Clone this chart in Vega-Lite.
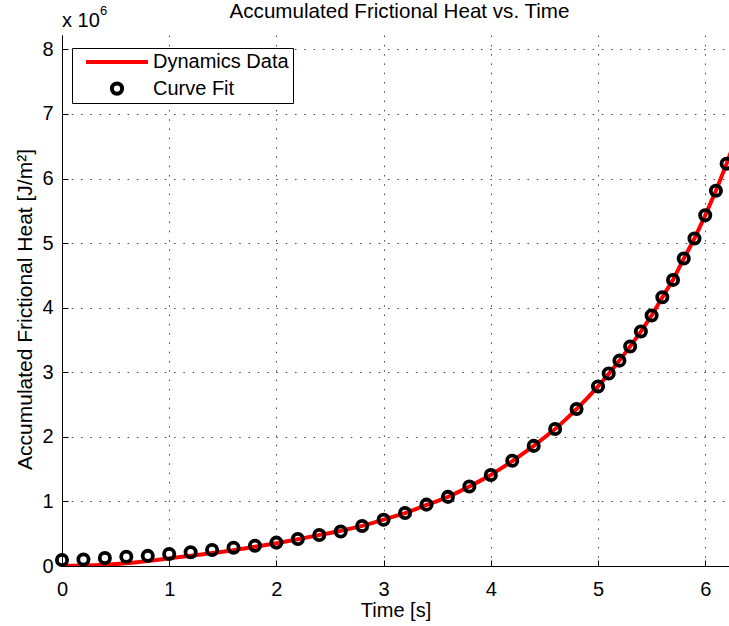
{
  "$schema": "https://vega.github.io/schema/vega-lite/v6.json",
  "width": 667,
  "height": 531,
  "autosize": {"type": "none"},
  "padding": {"left": 62, "top": 35, "right": 0, "bottom": 60},
  "background": "white",
  "title": {"text": "Accumulated Frictional Heat vs. Time", "font": "Liberation Sans", "fontSize": 20.6, "fontWeight": "normal", "color": "#000", "anchor": "middle", "offset": -18, "dx": 4},
  "config": {
    "view": {"stroke": null},
    "font": "Liberation Sans",
    "axis": {
      "labelFont": "Liberation Sans", "labelFontSize": 20, "labelColor": "#000",
      "titleFont": "Liberation Sans", "titleFontSize": 20, "titleFontWeight": "normal", "titleColor": "#000",
      "domainColor": "#000", "domainWidth": 1, "tickColor": "#000", "tickSize": -6, "tickWidth": 1,
      "grid": true, "gridColor": "#444", "gridDash": [1.5, 7.8], "gridWidth": 1, "gridOpacity": 1,
      "labelFlush": false, "labelOverlap": false
    }
  },
  "datasets": {
    "dynamics": [
      {"t": 0.0, "heat": 0}, {"t": 0.1, "heat": 2000}, {"t": 0.2, "heat": 6000}, {"t": 0.3, "heat": 12000},
      {"t": 0.4, "heat": 20000}, {"t": 0.5, "heat": 30000}, {"t": 0.6, "heat": 43000}, {"t": 0.7, "heat": 58000},
      {"t": 0.8, "heat": 76000}, {"t": 0.9, "heat": 96000}, {"t": 1.0, "heat": 118000}, {"t": 1.1, "heat": 139000},
      {"t": 1.2, "heat": 158000}, {"t": 1.3, "heat": 178000}, {"t": 1.4, "heat": 200000}, {"t": 1.5, "heat": 222000},
      {"t": 1.6, "heat": 246000}, {"t": 1.7, "heat": 272000}, {"t": 1.8, "heat": 298000}, {"t": 1.9, "heat": 325000},
      {"t": 2.0, "heat": 352000}, {"t": 2.1, "heat": 382000}, {"t": 2.2, "heat": 414000}, {"t": 2.3, "heat": 447000},
      {"t": 2.4, "heat": 480000}, {"t": 2.5, "heat": 512000}, {"t": 2.6, "heat": 545000}, {"t": 2.7, "heat": 582000},
      {"t": 2.8, "heat": 622000}, {"t": 2.9, "heat": 668000}, {"t": 3.0, "heat": 718000}, {"t": 3.1, "heat": 768000},
      {"t": 3.2, "heat": 820000}, {"t": 3.3, "heat": 882000}, {"t": 3.4, "heat": 945000}, {"t": 3.5, "heat": 1005000},
      {"t": 3.6, "heat": 1070000}, {"t": 3.7, "heat": 1148000}, {"t": 3.8, "heat": 1230000}, {"t": 3.9, "heat": 1318000},
      {"t": 4.0, "heat": 1410000}, {"t": 4.1, "heat": 1515000}, {"t": 4.2, "heat": 1625000}, {"t": 4.3, "heat": 1740000},
      {"t": 4.4, "heat": 1860000}, {"t": 4.5, "heat": 1990000}, {"t": 4.6, "heat": 2120000}, {"t": 4.7, "heat": 2270000},
      {"t": 4.8, "heat": 2430000}, {"t": 4.9, "heat": 2600000}, {"t": 5.0, "heat": 2780000}, {"t": 5.1, "heat": 2975000},
      {"t": 5.2, "heat": 3180000}, {"t": 5.3, "heat": 3400000}, {"t": 5.4, "heat": 3630000}, {"t": 5.5, "heat": 3880000},
      {"t": 5.6, "heat": 4160000}, {"t": 5.7, "heat": 4430000}, {"t": 5.8, "heat": 4760000}, {"t": 5.9, "heat": 5070000},
      {"t": 6.0, "heat": 5430000}, {"t": 6.1, "heat": 5810000}, {"t": 6.2, "heat": 6230000}, {"t": 6.3, "heat": 6680000}
    ],
    "fit": [
      {"t": 0.0, "heat": 93000}, {"t": 0.2, "heat": 102000}, {"t": 0.4, "heat": 125000}, {"t": 0.6, "heat": 142000},
      {"t": 0.8, "heat": 157000}, {"t": 1.0, "heat": 186000}, {"t": 1.2, "heat": 212000}, {"t": 1.4, "heat": 248000},
      {"t": 1.6, "heat": 282000}, {"t": 1.8, "heat": 314000}, {"t": 2.0, "heat": 362000}, {"t": 2.2, "heat": 418000},
      {"t": 2.4, "heat": 480000}, {"t": 2.6, "heat": 535000}, {"t": 2.8, "heat": 620000}, {"t": 3.0, "heat": 715000},
      {"t": 3.2, "heat": 820000}, {"t": 3.4, "heat": 950000}, {"t": 3.6, "heat": 1070000}, {"t": 3.8, "heat": 1230000},
      {"t": 4.0, "heat": 1410000}, {"t": 4.2, "heat": 1630000}, {"t": 4.4, "heat": 1860000}, {"t": 4.6, "heat": 2120000},
      {"t": 4.8, "heat": 2430000}, {"t": 5.0, "heat": 2780000}, {"t": 5.1, "heat": 2980000}, {"t": 5.2, "heat": 3180000},
      {"t": 5.3, "heat": 3400000}, {"t": 5.4, "heat": 3630000}, {"t": 5.5, "heat": 3880000}, {"t": 5.6, "heat": 4160000},
      {"t": 5.7, "heat": 4430000}, {"t": 5.8, "heat": 4760000}, {"t": 5.9, "heat": 5070000}, {"t": 6.0, "heat": 5430000},
      {"t": 6.1, "heat": 5810000}, {"t": 6.2, "heat": 6230000}
    ],
    "note": [{"t": 0, "heat": 8222000, "label": "x 10", "power": "6"}]
  },
  "layer": [
    {
      "data": {"name": "dynamics"},
      "mark": {"type": "line", "strokeWidth": 4, "clip": true},
      "encoding": {
        "x": {"field": "t", "type": "quantitative",
          "scale": {"domain": [0, 6.222], "nice": false, "zero": false},
          "axis": {"title": "Time [s]", "values": [0, 1, 2, 3, 4, 5, 6], "format": "d", "labelPadding": 19, "titlePadding": 1}},
        "y": {"field": "heat", "type": "quantitative",
          "scale": {"domain": [0, 8222000], "nice": false, "zero": false},
          "axis": {"title": "Accumulated Frictional Heat [J/m²]", "titleFontSize": 21, "titleY": 274, "values": [0, 1000000, 2000000, 3000000, 4000000, 5000000, 6000000, 7000000, 8000000],
            "labelExpr": "format(datum.value / 1000000, 'd')", "labelPadding": 15, "titlePadding": 6}},
        "color": {"datum": "Dynamics Data", "type": "nominal",
          "scale": {"domain": ["Dynamics Data", "Curve Fit"], "range": ["#ff0000", "#000000"]},
          "legend": {
            "title": null, "orient": "none", "legendX": 10, "legendY": 13,
            "fillColor": "#ffffff", "strokeColor": "#000000", "padding": 4,
            "labelFont": "Liberation Sans", "labelFontSize": 20, "labelColor": "#000", "labelOffset": 26,
            "symbolOffset": 31, "clipHeight": 20, "rowPadding": 6.6,
            "encode": {"symbols": {"update": {
              "shape": {"signal": "datum.value === 'Dynamics Data' ? 'stroke' : 'circle'"},
              "size": {"signal": "datum.value === 'Dynamics Data' ? 3844 : 105"},
              "strokeWidth": {"value": 4},
              "stroke": {"signal": "datum.value === 'Dynamics Data' ? '#ff0000' : '#000000'"},
              "fill": {"value": "transparent"},
              "opacity": {"value": 1}
            }}}
          }}
      }
    },
    {
      "data": {"name": "fit"},
      "mark": {"type": "point", "shape": "circle", "filled": false, "size": 105, "strokeWidth": 3.8, "opacity": 1},
      "encoding": {
        "x": {"field": "t", "type": "quantitative"},
        "y": {"field": "heat", "type": "quantitative"},
        "color": {"datum": "Curve Fit", "type": "nominal"}
      }
    },
    {
      "data": {"name": "note"},
      "mark": {"type": "text", "align": "left", "baseline": "alphabetic", "dy": -8, "fontSize": 20, "font": "Liberation Sans", "fill": "#000000"},
      "encoding": {
        "x": {"field": "t", "type": "quantitative"},
        "y": {"field": "heat", "type": "quantitative"},
        "text": {"field": "label"}
      }
    },
    {
      "data": {"name": "note"},
      "mark": {"type": "text", "align": "left", "baseline": "alphabetic", "dx": 38, "dy": -20, "fontSize": 13, "font": "Liberation Sans", "fill": "#000000"},
      "encoding": {
        "x": {"field": "t", "type": "quantitative"},
        "y": {"field": "heat", "type": "quantitative"},
        "text": {"field": "power"}
      }
    }
  ]
}
